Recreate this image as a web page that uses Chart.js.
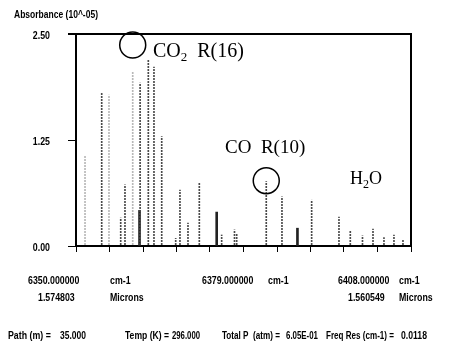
<!DOCTYPE html>
<html lang="en">
<head>
    <meta charset="UTF-8">
    <title>Absorbance spectrum</title>
    <style>
        body {
            margin: 0;
            background: #ffffff;
        }
        .chart-box {
            position: relative;
            width: 452px;
            height: 347px;
        }
    </style>
    <script src="https://cdn.jsdelivr.net/npm/chart.js@4.4.0/dist/chart.umd.min.js"></script>
</head>
<body>
    <div class="chart-box">
        <canvas id="spectrum"></canvas>
    </div>
    <script>
        // line positions (cm-1) and peak absorbance (10^-05)
        const strongLinesX = [6354.45, 6357.74, 6358.48, 6361.10, 6362.52, 6363.50, 6364.84, 6367.26, 6368.00,
            6369.39, 6371.35, 6375.22, 6377.44, 6377.82, 6382.94, 6385.66, 6390.80, 6395.53, 6397.49,
            6399.60, 6401.42, 6403.32, 6405.05, 6406.61];
        const strongLinesY = [1.80, 0.33, 0.72, 1.92, 2.19, 2.11, 1.29, 0.09, 0.66,
            0.27, 0.75, 0.13, 0.19, 0.14, 0.76, 0.58, 0.54, 0.34, 0.18,
            0.12, 0.20, 0.10, 0.13, 0.08];
        const faintLinesX = [6351.56, 6355.71, 6359.82];
        const faintLinesY = [1.07, 1.78, 2.05];
        const solidLinesX = [6361.00, 6374.36, 6388.34];
        const solidLinesY = [0.42, 0.40, 0.21];

        const xTicks = [6350, 6355.8, 6361.6, 6367.4, 6373.2, 6379, 6384.8, 6390.6, 6396.4, 6402.2, 6408];
        const yTicks = [0, 1.25, 2.5];
        const wavenumberLabels = ['6350.000000', '6379.000000', '6408.000000'];
        const micronLabels = ['1.574803', '', '1.560549'];
        const footerNames = ['Path (m) =', 'Temp (K) =', 'Total P  (atm) =', 'Freq Res (cm-1) ='];
        const footerValues = ['35.000', '296.000', '6.05E-01', '0.0118'];

        const sans = '"Liberation Sans", Arial, sans-serif';
        const serif = '"Liberation Serif", "Times New Roman", serif';

        function toPoints(xs, ys) {
            return xs.map((x, i) => ({ x: x, y: ys[i] }));
        }

        // dotted look of the scanned lines
        function dotPattern(color) {
            const c = document.createElement('canvas');
            c.width = 1;
            c.height = 3;
            const g = c.getContext('2d');
            g.fillStyle = color;
            g.fillRect(0, 0, 1, 2);
            return g.createPattern(c, 'repeat');
        }

        // no narrow face installed, so squeeze bold sans horizontally
        function narrowText(ctx, text, x, y, align, width) {
            ctx.save();
            ctx.font = 'bold 11px ' + sans;
            ctx.textAlign = align || 'left';
            ctx.textBaseline = 'middle';
            ctx.translate(x, y);
            ctx.scale(0.8, 1);
            if (width) {
                ctx.fillText(text, 0, 0, width / 0.8);
            } else {
                ctx.fillText(text, 0, 0);
            }
            ctx.restore();
        }

        function subText(ctx, parts, x, y, size) {
            // parts: [text, isSubscript]
            let cx = x;
            parts.forEach(p => {
                if (p[1]) {
                    ctx.font = Math.round(size * 0.65) + 'px ' + serif;
                    ctx.fillText(p[0], cx, y + size * 0.22);
                } else {
                    ctx.font = size + 'px ' + serif;
                    ctx.fillText(p[0], cx, y);
                }
                cx += ctx.measureText(p[0]).width;
            });
        }

        const decorations = {
            id: 'decorations',
            afterDraw(chart) {
                const ctx = chart.ctx;
                const a = chart.chartArea;
                const xs = chart.scales.x;
                const ys = chart.scales.y;
                ctx.save();

                // top and right frame
                ctx.strokeStyle = '#000';
                ctx.lineWidth = 2;
                ctx.beginPath();
                ctx.moveTo(a.left - 8, a.top);
                ctx.lineTo(a.right, a.top);
                ctx.lineTo(a.right, a.bottom);
                ctx.stroke();

                // circles round the marked lines
                ctx.lineWidth = 1.5;
                ctx.beginPath();
                ctx.arc(xs.getPixelForValue(faintLinesX[2]), ys.getPixelForValue(2.37), 13, 0, Math.PI * 2);
                ctx.stroke();
                ctx.beginPath();
                ctx.arc(xs.getPixelForValue(strongLinesX[14]), ys.getPixelForValue(0.77), 13, 0, Math.PI * 2);
                ctx.stroke();

                // species labels
                ctx.fillStyle = '#000';
                ctx.textAlign = 'left';
                ctx.textBaseline = 'alphabetic';
                subText(ctx, [['CO', false], ['2', true], ['  R(16)', false]], 153, 57, 20);
                subText(ctx, [['CO  R(10)', false]], 225, 153, 19);
                subText(ctx, [['H', false], ['2', true], ['O', false]], 350, 184, 18);

                // axis title and y tick labels
                narrowText(ctx, 'Absorbance (10^-05)', 14, 15, 'left', 84);
                yTicks.forEach(v => narrowText(ctx, v.toFixed(2), 50, ys.getPixelForValue(v) + 2, 'right'));

                // wavenumber / micron labels under the axis
                const colX = [28, 202, 338];
                const unitX = [110, 268, 399];
                wavenumberLabels.forEach((t, i) => {
                    narrowText(ctx, t, colX[i], 281, 'left', 54);
                    narrowText(ctx, 'cm-1', unitX[i], 281);
                });
                micronLabels.forEach((t, i) => {
                    if (!t) return;
                    narrowText(ctx, t, colX[i] + 10, 298);
                    narrowText(ctx, 'Microns', unitX[i], 298);
                });

                // run parameters
                const nameX = [8, 125, 222, 326];
                const nameW = [45, 44, 58, 68];
                const valueX = [86, 200, 318, 427];
                const valueW = [26, 28, 32, 26];
                footerNames.forEach((t, i) => {
                    narrowText(ctx, t, nameX[i], 336, 'left', nameW[i]);
                    narrowText(ctx, footerValues[i], valueX[i], 336, 'right', valueW[i]);
                });

                ctx.restore();
            }
        };

        new Chart(document.getElementById('spectrum'), {
            type: 'bar',
            data: {
                datasets: [
                    {
                        label: 'strong',
                        data: toPoints(strongLinesX, strongLinesY),
                        backgroundColor: dotPattern('#4a4a4a'),
                        barThickness: 1,
                        grouped: false
                    },
                    {
                        label: 'faint',
                        data: toPoints(faintLinesX, faintLinesY),
                        backgroundColor: dotPattern('#b8b8b8'),
                        barThickness: 1,
                        grouped: false
                    },
                    {
                        label: 'solid',
                        data: toPoints(solidLinesX, solidLinesY),
                        backgroundColor: '#222',
                        barThickness: 2,
                        grouped: false
                    }
                ]
            },
            options: {
                responsive: true,
                maintainAspectRatio: false,
                animation: false,
                layout: {
                    padding: { left: 0, right: 41, top: 34, bottom: 0 }
                },
                plugins: {
                    legend: { display: false },
                    tooltip: { enabled: false }
                },
                scales: {
                    x: {
                        type: 'linear',
                        offset: false,
                        min: 6350,
                        max: 6408,
                        afterBuildTicks: scale => {
                            scale.ticks = xTicks.map(v => ({ value: v }));
                        },
                        afterFit: scale => {
                            scale.height = 101;
                        },
                        ticks: {
                            callback: () => ''
                        },
                        grid: {
                            offset: false,
                            drawOnChartArea: false,
                            drawTicks: true,
                            tickLength: 6,
                            color: '#000'
                        },
                        border: { display: true, color: '#000', width: 2 }
                    },
                    y: {
                        min: 0,
                        max: 2.5,
                        afterBuildTicks: scale => {
                            scale.ticks = yTicks.map(v => ({ value: v }));
                        },
                        afterFit: scale => {
                            scale.width = 76;
                        },
                        ticks: {
                            callback: () => ''
                        },
                        grid: {
                            drawOnChartArea: false,
                            drawTicks: true,
                            tickLength: 8,
                            color: '#000'
                        },
                        border: { display: true, color: '#000', width: 2 }
                    }
                }
            },
            plugins: [decorations]
        });
    </script>
</body>
</html>
